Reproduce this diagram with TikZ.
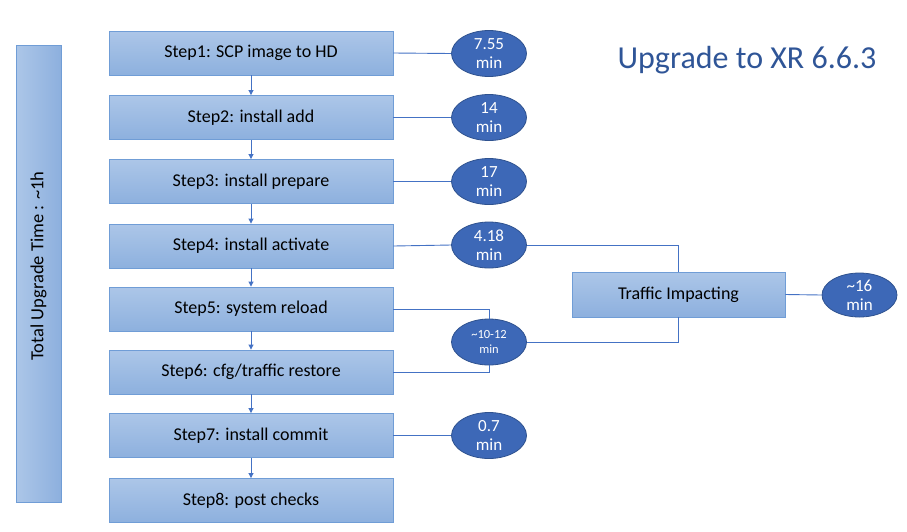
\documentclass[tikz,border=0pt]{standalone}
\usepackage{fontspec}
\setmainfont{Carlito}
\usetikzlibrary{arrows.meta,shapes.geometric}
\definecolor{boxtop}{RGB}{172,198,232}
\definecolor{boxbot}{RGB}{141,176,222}
\definecolor{boxline}{RGB}{112,157,214}
\definecolor{ellfill}{RGB}{61,104,183}
\definecolor{ellline}{RGB}{47,82,143}
\definecolor{conn}{RGB}{68,114,196}
\definecolor{titleblue}{RGB}{47,85,151}
\tikzset{
  stepbox/.style={rectangle, draw=boxline, line width=0.9pt, top color=boxtop, bottom color=boxbot,
    minimum width=284pt, minimum height=44pt, inner sep=0pt, font=\fontsize{18}{20}\selectfont},
  timeell/.style={ellipse, draw=ellline, line width=0.8pt, fill=ellfill, text=white,
    minimum width=75pt, minimum height=46pt, inner sep=0pt, align=center,
    font=\fontsize{17}{19}\selectfont},
  conline/.style={draw=conn, line width=0.9pt},
  arr/.style={conline, -{Triangle[length=5pt,width=5pt]}}
}
\begin{document}
\begin{tikzpicture}[x=1pt,y=-1pt]
\useasboundingbox (0,0) rectangle (907,531);
% total box
\node[rectangle, draw=boxline, line width=0.9pt, left color=boxtop, right color=boxbot,
  minimum width=45pt, minimum height=457pt, inner sep=0pt] (total) at (38.5,273.5) {};
\node[rotate=90, font=\fontsize{18.5}{20}\selectfont] (totaltxt) at (38.5,266) {Total Upgrade Time : \textasciitilde 1h};
% steps
\node[stepbox] (s1) at (251,53) {Step1: SCP image to HD};
\node[stepbox] (s2) at (251,117.5) {Step2: install add};
\node[stepbox] (s3) at (251,181.5) {Step3: install prepare};
\node[stepbox] (s4) at (251,246) {Step4: install activate};
\node[stepbox] (s5) at (251,309) {Step5: system reload};
\node[stepbox] (s6) at (251,372) {Step6: cfg/traffic restore};
\node[stepbox] (s7) at (251,435.5) {Step7: install commit};
\node[stepbox] (s8) at (251,500.5) {Step8: post checks};
% ellipses
\node[timeell] (e1) at (489,53.5) {7.55\\min};
\node[timeell] (e2) at (489,117.5) {14\\min};
\node[timeell] (e3) at (489,181.5) {17\\min};
\node[timeell] (e4) at (489,245) {4.18\\min};
\node[timeell, font=\fontsize{12.5}{15}\selectfont] (e56) at (489,342) {\textasciitilde 10-12\\min};
\node[timeell] (e7) at (489,435.5) {0.7\\min};
% traffic
\node[stepbox, minimum width=213pt, minimum height=45pt] (tr) at (678.5,294.5) {Traffic Impacting};
\node[timeell, minimum height=44pt] (e8) at (859.5,295) {\textasciitilde 16\\min};
% title
\node[text=titleblue, font=\fontsize{32}{36}\selectfont, anchor=center] (title) at (747,60) {Upgrade to XR 6.6.3};
% arrows
\draw[arr] (s1) -- (s2);
\draw[arr] (s2) -- (s3);
\draw[arr] (s3) -- (s4);
\draw[arr] (s4) -- (s5);
\draw[arr] (s5) -- (s6);
\draw[arr] (s6) -- (s7);
\draw[arr] (s7) -- (s8);
% connectors
\draw[conline] (s1.east) -- (e1.west);
\draw[conline] (s2.east) -- (e2.west);
\draw[conline] (s3.east) -- (e3.west);
\draw[conline] (s4.east) -- (e4.west);
\draw[conline] (s5.east) -| (e56.north);
\draw[conline] (s6.east) -| (e56.south);
\draw[conline] (s7.east) -- (e7.west);
\draw[conline] (e4.east) -| (tr.north);
\draw[conline] (e56.east) -| (tr.south);
\draw[conline] (tr.east) -- (e8.west);
\end{tikzpicture}
\end{document}
